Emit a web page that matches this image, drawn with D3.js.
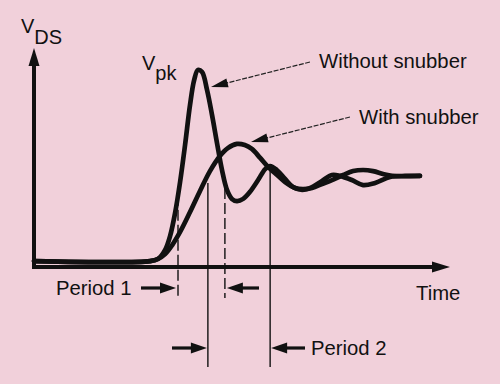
<!DOCTYPE html>
<meta charset="utf-8">
<style>
body { margin: 0; background: #f1d0da; }
svg { display: block; }
text { font-family: "Liberation Sans", Arial, sans-serif; fill: #111; }
</style>
<body>
<script src="https://d3js.org/d3.v7.min.js"></script>
<script>
// time (arbitrary units) and drain-source voltage (% of axis)
var timeWithout = [0, 28, 29.9, 31.6, 32.8, 34, 35.2, 36.4, 37.6, 38.6, 39.5, 40.5, 41.7, 42.9, 44.1, 45.3, 46.5, 47.7, 48.9, 50.4, 52, 54, 55.7, 56.9, 58.5, 60.5, 62.4, 64.6, 67, 69.4, 71.8, 73.7, 76.6, 79.3, 82.2, 85.8, 89.4, 93]
var vdsWithout  = [2.7, 2.7, 3.7, 7.8, 14.2, 24.7, 38.8, 55.7, 74, 85.4, 90, 89, 80.8, 69.4, 56.6, 44.3, 35.2, 31.1, 30.1, 31.1, 34.2, 39.7, 44.7, 46.1, 44.3, 40.2, 36.5, 35.2, 36.5, 39.3, 42, 41.6, 39.7, 37.4, 38.4, 41.1, 41.6, 41.6]

var timeWith = [0, 28, 29.9, 31.6, 33.3, 35.2, 37.6, 40, 42.4, 44.8, 46.7, 48.9, 50.8, 52.5, 54.5, 56.4, 58.3, 60.5, 62.9, 64.8, 67, 69.4, 71.8, 74.5, 76.9, 79.3, 81.7, 84.1, 86.3, 93]
var vdsWith  = [2.7, 2.7, 3.7, 5.9, 10, 16, 25.1, 34.7, 43.8, 50.7, 54.3, 56.2, 55.7, 53.9, 49.8, 45.7, 42.5, 38.8, 36.1, 35.6, 36.1, 37.9, 39.7, 42, 43.8, 44.3, 43.8, 42.5, 41.6, 41.6]

// period boundary markers
var markerTime = [34.7, 41.9, 46, 56.9]
var markerTop  = [33, 38.4, 36.1, 45.7]
var markerDashed = [true, false, true, false]

var width = 500
var height = 384
var ink = '#111'

var x = d3.scaleLinear().domain([0, 100]).range([34, 449])
var y = d3.scaleLinear().domain([0, 100]).range([267, 48])

var svg = d3.select('body').append('svg')
    .attr('width', width)
    .attr('height', height)

svg.append('rect').attr('width', width).attr('height', height).attr('fill', '#f1d0da')

function arrowHead(g, tip, angle, len, half) {
    var a = angle * Math.PI / 180
    var bx = tip[0] - len * Math.cos(a)
    var by = tip[1] - len * Math.sin(a)
    var px = -Math.sin(a) * half
    var py = Math.cos(a) * half
    g.append('path')
        .attr('d', 'M' + tip + 'L' + [bx + px, by + py] + 'L' + [bx - px, by - py] + 'Z')
        .attr('fill', ink)
}

// axes
var axis = svg.append('g')
axis.append('path')
    .attr('d', 'M' + [x(0), y(100) + 14] + 'V' + y(0) + 'H' + (x(100) - 14))
    .attr('fill', 'none').attr('stroke', ink).attr('stroke-width', 4)
arrowHead(axis, [x(0), y(100)], -90, 18, 5.5)
arrowHead(axis, [x(100) + 1, y(0)], 0, 18, 5.5)

// period markers
markerTime.forEach(function (t, i) {
    svg.append('line')
        .attr('x1', x(t)).attr('x2', x(t))
        .attr('y1', y(markerTop[i]))
        .attr('y2', markerDashed[i] ? y(0) + 31 : y(0) + 100)
        .attr('stroke', ink)
        .attr('stroke-width', 1.4)
        .attr('stroke-dasharray', markerDashed[i] ? '11,4' : null)
})

// curves
var line = d3.line()
    .x(function (d) { return x(d[0]) })
    .y(function (d) { return y(d[1]) })
    .curve(d3.curveCatmullRom.alpha(0.5))

var seriesWith = timeWith.map(function (t, i) { return [t, vdsWith[i]] })
var seriesWithout = timeWithout.map(function (t, i) { return [t, vdsWithout[i]] })

;[seriesWith, seriesWithout].forEach(function (s) {
    svg.append('path')
        .attr('d', line(s))
        .attr('fill', 'none')
        .attr('stroke', ink)
        .attr('stroke-width', 4.7)
        .attr('stroke-linejoin', 'round')
        .attr('stroke-linecap', 'round')
})

// period arrows (thick, filled head)
function periodArrow(x0, x1, yy) {
    var dir = x1 > x0 ? 1 : -1
    svg.append('line')
        .attr('x1', x0).attr('x2', x1 - dir * 10)
        .attr('y1', yy).attr('y2', yy)
        .attr('stroke', ink).attr('stroke-width', 3.2)
    arrowHead(svg, [x1, yy], dir > 0 ? 0 : 180, 16, 5.5)
}
var row1 = y(0) + 21
var row2 = y(0) + 81
periodArrow(141, x(markerTime[0]) - 2, row1)
periodArrow(259, x(markerTime[2]) + 2, row1)
periodArrow(172, x(markerTime[1]) - 1, row2)
periodArrow(305, x(markerTime[3]) + 1, row2)

// callout pointers
function pointer(from, tip) {
    var ang = Math.atan2(tip[1] - from[1], tip[0] - from[0]) * 180 / Math.PI
    var a = ang * Math.PI / 180
    svg.append('line')
        .attr('x1', from[0]).attr('y1', from[1])
        .attr('x2', tip[0] - 12 * Math.cos(a)).attr('y2', tip[1] - 12 * Math.sin(a))
        .attr('stroke', '#222').attr('stroke-width', 1.2)
        .attr('stroke-dasharray', '5,1.5')
    arrowHead(svg, tip, ang, 17, 4.5)
}
pointer([310, 62], [211, 87])
pointer([350, 117], [251, 142])

// labels
function label(txt, tx, ty, size) {
    return svg.append('text').attr('x', tx).attr('y', ty)
        .attr('font-size', size).text(txt)
}
var vds = label('V', 21, 33, 20)
vds.append('tspan').attr('dy', 11).attr('font-size', 20).text('DS')
var vpk = label('V', 142, 70, 20)
vpk.append('tspan').attr('dy', 10).attr('font-size', 20).text('pk')

label('Without snubber', 319, 68, 20.3)
label('With snubber', 359, 124, 20.3)
label('Time', 416, 300, 20.3)
label('Period 1', 56, 295, 20.3)
label('Period 2', 311, 355, 20.3)
</script>
</body>
